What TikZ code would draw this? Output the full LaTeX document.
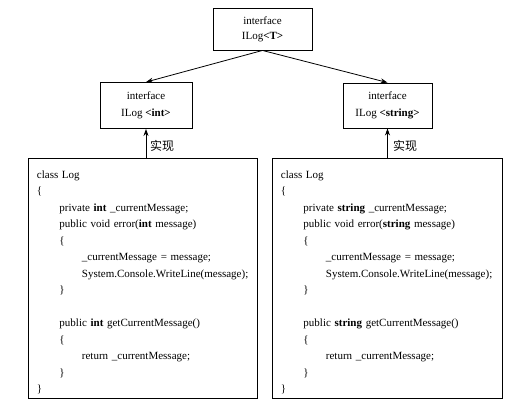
\documentclass[tikz,border=0pt]{standalone}
\usepackage{fontspec}
\setmainfont{Liberation Serif}
\newfontfamily\cjk{Noto Sans CJK SC}
\usetikzlibrary{arrows.meta}

\begin{document}
\begin{tikzpicture}[x=1pt, y=-1pt, font=\fontsize{11}{16.5}\selectfont,
  ibox/.style={draw, line width=0.9pt, align=center, inner sep=0pt},
  codebox/.style={draw, line width=0.9pt, align=left, anchor=north west, inner xsep=8.5pt, inner ysep=4pt},
  arr/.style={-{Stealth[length=7pt, width=5pt]}, line width=0.8pt}]
  \useasboundingbox (0,0) rectangle (515,404);

  % Code of one class
  \newcommand{\tabin}{\hspace*{22.5pt}}
  \newcommand{\logcode}[1]{\rule{0pt}{16pt}class Log\\
    \{\\
    \tabin private \textbf{#1} \_currentMessage;\\
    \tabin public void error(\textbf{#1} message)\\
    \tabin \{\\
    \tabin\tabin \_currentMessage = message;\\
    \tabin\tabin System.Console.WriteLine(message);\\
    \tabin \}\\
    \mbox{}\\
    \tabin public \textbf{#1} getCurrentMessage()\\
    \tabin \{\\
    \tabin\tabin return \_currentMessage;\\
    \tabin \}\\
    \}}

  % Generic interface
  \node[ibox, minimum width=99pt, minimum height=42pt, font=\fontsize{11}{15}\selectfont]
    (ilogt) at (262.5,29) {interface\\ILog\textbf{<T>}};

  % Closed interfaces
  \node[ibox, minimum width=92pt, minimum height=46pt] (ilogint) at (146,105.5) {interface\\ILog \textbf{<int>}};
  \node[ibox, minimum width=89pt, minimum height=45pt] (ilogstring) at (387.5,105.5) {interface\\ILog \textbf{<string>}};

  \draw[arr] (ilogt.south) -- (ilogint.north);
  \draw[arr] (ilogt.south) -- (ilogstring.north);

  % Classes
  \node[codebox, text width=212pt] (logint) at (28,158) {\logcode{int}};
  \node[codebox, text width=213pt] (logstring) at (272,158) {\logcode{string}};

  \draw[arr] (logint.north -| ilogint.south) -- (ilogint.south);
  \draw[arr] (logstring.north -| ilogstring.south) -- (ilogstring.south);

  \node[font=\cjk\fontsize{12}{12}\selectfont] (implint) at (162,146) {实现};
  \node[font=\cjk\fontsize{12}{12}\selectfont] (implstring) at (405,146) {实现};
\end{tikzpicture}
\end{document}
